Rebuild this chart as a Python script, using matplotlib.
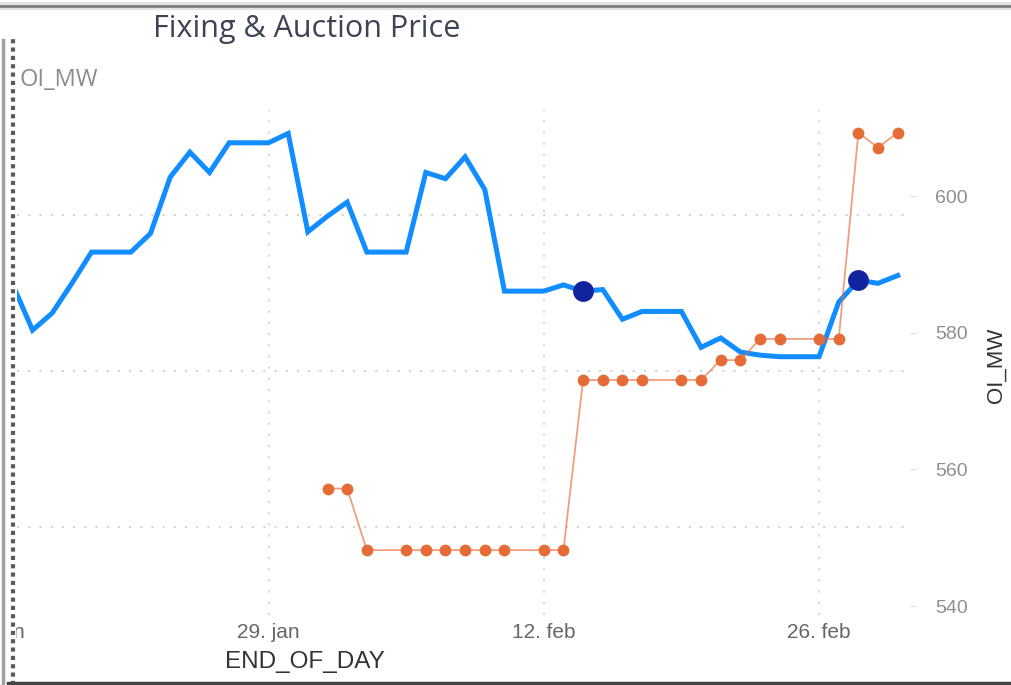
import numpy as np
import pandas as pd
import matplotlib
matplotlib.use("Agg")
import matplotlib.pyplot as plt
import matplotlib.dates as mdates
from matplotlib.lines import Line2D
from matplotlib.transforms import Bbox

# ---- data ----
blue_dates = pd.date_range("2024-01-16", "2024-03-01", freq="D")
blue_vals = [25.5, 22.6, 23.7, 25.6, 27.6, 27.6, 27.6, 28.8, 32.4, 34.0,
             32.7, 34.6, 34.6, 34.6, 35.2, 28.9, 29.9, 30.8, 27.6, 27.6,
             27.6, 32.7, 32.3, 33.7, 31.6, 25.1, 25.1, 25.1, 25.5, 25.1,
             25.2, 23.3, 23.8, 23.8, 23.8, 21.5, 22.1, 21.2, 21.0, 20.9,
             20.9, 20.9, 24.4, 25.8, 25.6, 26.1]
highlight_dates = ["2024-02-14", "2024-02-28"]

auction_dates = ["2024-02-01", "2024-02-02", "2024-02-03", "2024-02-05",
                 "2024-02-06", "2024-02-07", "2024-02-08", "2024-02-09",
                 "2024-02-10", "2024-02-12", "2024-02-13", "2024-02-14",
                 "2024-02-15", "2024-02-16", "2024-02-17", "2024-02-19",
                 "2024-02-20", "2024-02-21", "2024-02-22", "2024-02-23",
                 "2024-02-24", "2024-02-26", "2024-02-27", "2024-02-28",
                 "2024-02-29", "2024-03-01"]
auction_vals = [557.2, 557.2, 548.2, 548.2, 548.2, 548.2, 548.2, 548.2,
                548.2, 548.2, 548.2, 573.1, 573.1, 573.1, 573.1, 573.1,
                573.1, 576.0, 576.0, 579.1, 579.1, 579.1, 579.1, 609.3,
                607.1, 609.3]

xtick_dates = ["2024-01-29", "2024-02-12", "2024-02-26"]
xtick_labels = ["29. jan", "12. feb", "26. feb"]
first_tick_date, first_tick_label = "2024-01-15", "15. jan"  # cut at the left edge
right_ticks = [540, 560, 580, 600]
left_grid = [10, 20, 30]

blue_x = mdates.date2num(blue_dates)
auc_x = mdates.date2num(pd.to_datetime(auction_dates))
hl_x = mdates.date2num(pd.to_datetime(highlight_dates))
hl_y = [blue_vals[list(blue_x).index(v)] for v in hl_x]

W, H = 1012, 685
fig = plt.figure(figsize=(W / 100, H / 100), dpi=100)
fig.patch.set_facecolor("white")

# plot area in pixels: x 17..910, y 110..615
ax = fig.add_axes([17 / W, (H - 615) / H, (910 - 17) / W, (615 - 110) / H])
ax2 = ax.twinx()

ax.plot(blue_x, blue_vals, color="#118DFF", lw=3.6, solid_joinstyle="miter",
        zorder=2)
ax2.plot(auc_x, auction_vals, color="#E66C37", lw=1.3, alpha=0.65, zorder=3)
ax2.plot(auc_x, auction_vals, "o", color="#E66C37", ms=8.5, mew=0, zorder=4)
# highlighted points drawn on top of everything
ax2.plot(hl_x, hl_y, "o", color="#12239E", ms=15, mew=0, zorder=5,
         transform=ax.transData)

for a in (ax, ax2):
    for s in a.spines.values():
        s.set_visible(False)

sans = ["Liberation Sans", "DejaVu Sans"]

# left axis: only gridlines
ax.set_yticks(left_grid)
ax.tick_params(axis="y", left=False, labelleft=False)
ax.grid(axis="y", color="#cfcfcf", lw=1.3, ls=(0, (1.2, 5)))

ax.set_xticks(mdates.date2num(pd.to_datetime(xtick_dates)))
ax.set_xticklabels(xtick_labels, family=sans)
ax.tick_params(axis="x", length=0, pad=6, labelsize=15, labelcolor="#666666")
ax.grid(axis="x", color="#d4d4d4", lw=1.3, ls=(0, (1.2, 5)))

# limits after ticks (set_xticks would widen the view)
ax.set_xlim(mdates.date2num(pd.Timestamp("2024-01-16 05:00")),
            mdates.date2num(pd.Timestamp("2024-03-01 15:00")))
ax.set_ylim(4.36, 36.7)
ax2.set_ylim(538.7, 612.6)

# the label of the tick just left of the view, cut by the frame
t = ax.annotate(first_tick_label,
                xy=(mdates.date2num(pd.Timestamp(first_tick_date)), 0),
                xycoords=("data", "axes fraction"), xytext=(0, -6),
                textcoords="offset points", ha="center", va="top",
                fontsize=15, color="#666666", family=sans,
                annotation_clip=False)
t.set_clip_on(True)
t.set_clip_box(Bbox.from_extents(16, 0, W, H))

ax2.set_yticks(right_ticks)
ax2.tick_params(axis="y", length=4, color="#dddddd", pad=14, labelsize=14,
                labelcolor="#8f8f8f")
for lab in ax2.get_yticklabels():
    lab.set_fontfamily(sans)

ax2.set_ylabel("OI_MW", rotation=90, fontsize=16, color="#333333",
               family=sans)
ax2.yaxis.set_label_coords(1.085, 0.495)

ax.set_xlabel("END_OF_DAY", fontsize=17.5, color="#333333", family=sans)
ax.xaxis.set_label_coords(0.3225, -0.072)

fig.text(153 / W, 1 - 29 / H, "Fixing & Auction Price", ha="left",
         va="center", fontsize=22, color="#3e4452", family="Open Sans")
fig.text(20 / W, 1 - 80 / H, "OI_MW", ha="left", va="center", fontsize=17,
         color="#8c8c8c", family="Open Sans")

# screenshot frame
fig.add_artist(Line2D([0, 1], [1 - 6 / H, 1 - 6 / H], transform=fig.transFigure,
                      color="#e2e2e2", lw=6))
fig.add_artist(Line2D([0, 1], [1 - 6 / H, 1 - 6 / H], transform=fig.transFigure,
                      color="#7d7d7d", lw=2))
fig.add_artist(Line2D([3 / W, 3 / W], [0, 1 - 40 / H], transform=fig.transFigure,
                      color="#a0a0a0", lw=2.5))
fig.add_artist(Line2D([13 / W, 13 / W], [0, 1 - 35 / H], transform=fig.transFigure,
                      color="#5a5a5a", lw=3, ls=(0, (1.0, 1.0))))
fig.add_artist(Line2D([8 / W, 1], [2 / H, 2 / H], transform=fig.transFigure,
                      color="#444444", lw=2.5))

fig.savefig("out.png", dpi=100)
